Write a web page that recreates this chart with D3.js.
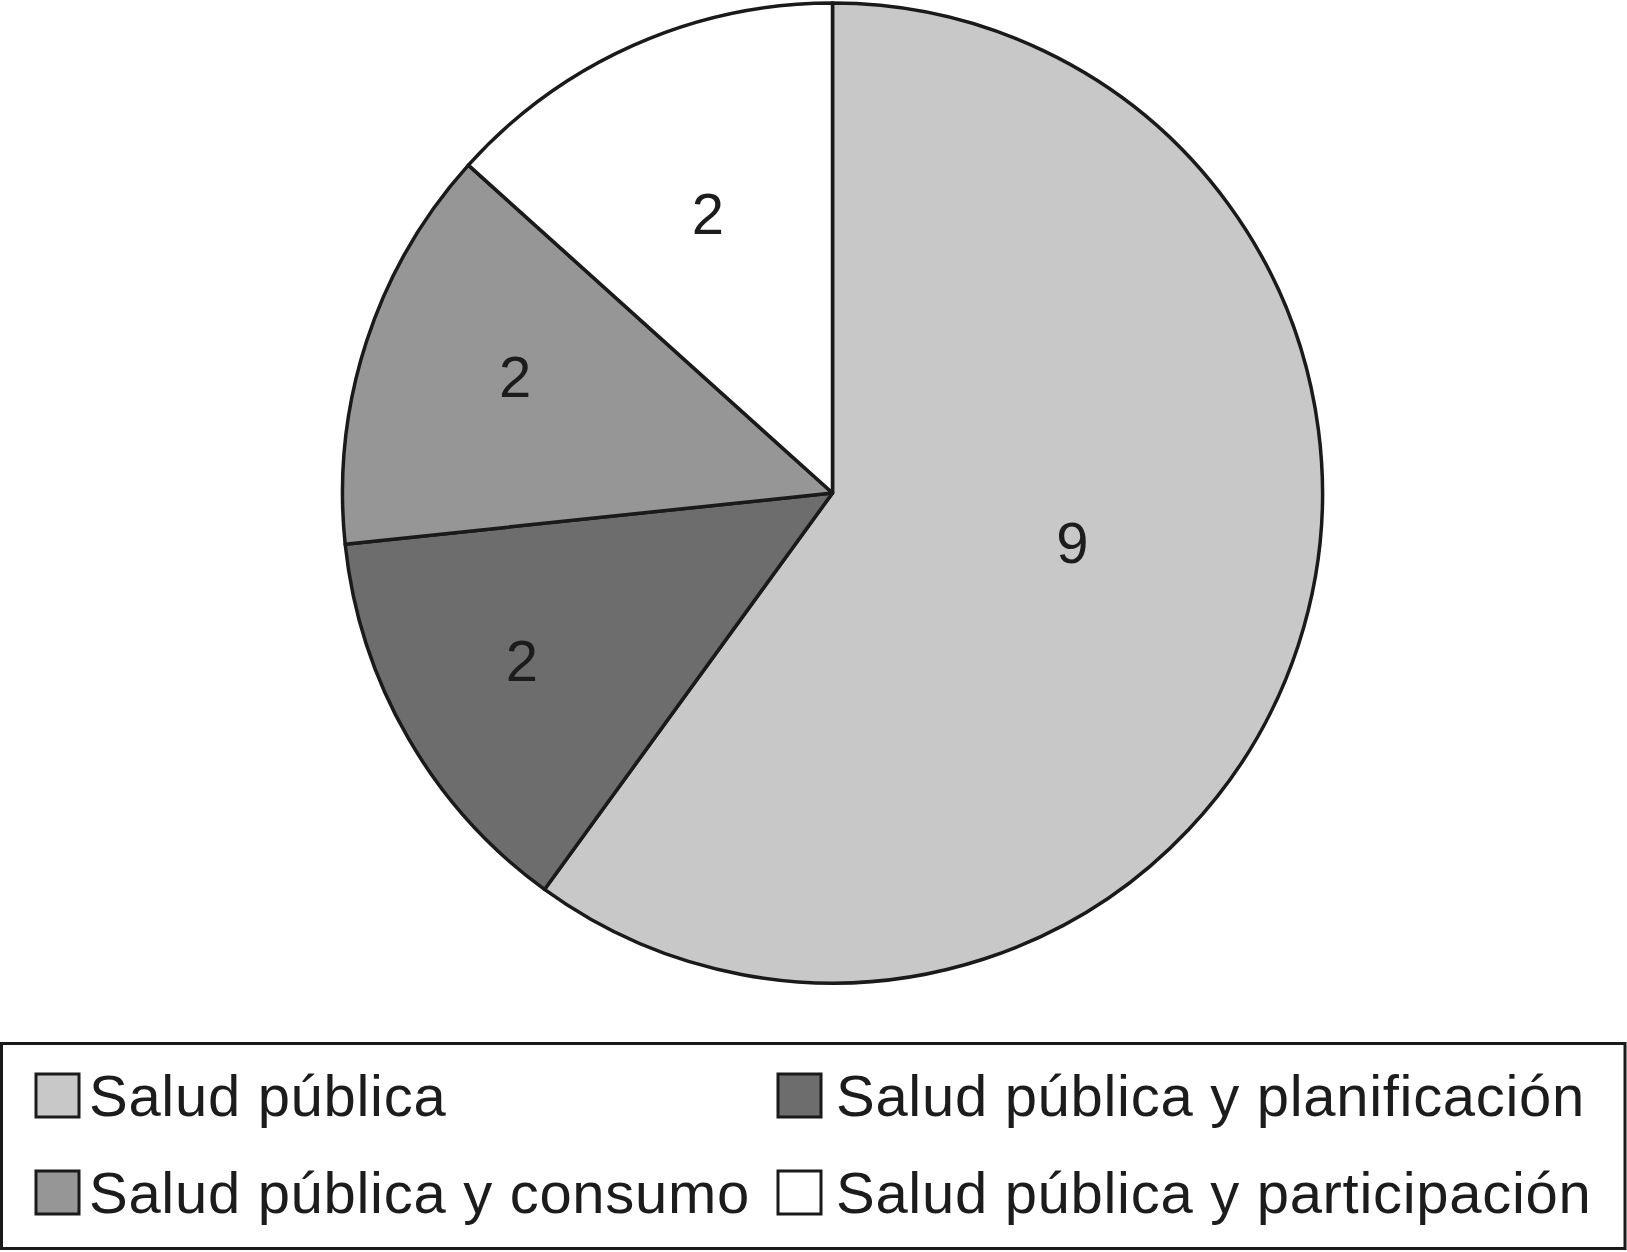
<!DOCTYPE html>
<html>
<head>
<meta charset="utf-8">
<script src="https://cdn.jsdelivr.net/npm/d3@7"></script>
<style>
html,body{margin:0;padding:0;background:#fff;}
svg{display:block;}
</style>
</head>
<body>
<svg id="chart" width="1627" height="1252"></svg>
<script>
// ---- data ----
const categories = ["Salud pública", "Salud pública y planificación", "Salud pública y consumo", "Salud pública y participación"];
const values = [9, 2, 2, 2];
const colors = ["#c8c8c8", "#6d6d6d", "#969696", "#ffffff"];
// legend order (as in the reference: row-major, 2 columns)
const legendOrder = [0, 1, 2, 3];

// ---- layout ----
const W = 1627, H = 1252;
const cx = 832.5, cy = 493, R = 490;
const labelFrac = [0.5, 0.72, 0.69, 0.625];
const labelAngleAdj = [-6.4, 1.7, 2.2, 0];
const textColor = "#1c1c1c";
const font = "'Liberation Sans', Arial, Helvetica, sans-serif";

const svg = d3.select("#chart");

const pie = d3.pie().sort(null).value(d => d)(values);
const arc = d3.arc().innerRadius(0).outerRadius(R);

const g = svg.append("g").attr("transform", `translate(${cx},${cy})`);
g.selectAll("path.slice").data(pie).join("path")
  .attr("class", "slice")
  .attr("d", arc)
  .attr("fill", (d, i) => colors[i])
  .attr("stroke", "#1a1a1a")
  .attr("stroke-width", 3.5)
  .attr("stroke-linejoin", "round");

g.selectAll("text.lbl").data(pie).join("text")
  .attr("class", "lbl")
  .attr("x", (d, i) => {
    const a = (d.startAngle + d.endAngle) / 2 + labelAngleAdj[i] * Math.PI / 180;
    return Math.sin(a) * R * labelFrac[i];
  })
  .attr("y", (d, i) => {
    const a = (d.startAngle + d.endAngle) / 2 + labelAngleAdj[i] * Math.PI / 180;
    return -Math.cos(a) * R * labelFrac[i];
  })
  .attr("text-anchor", "middle")
  .attr("dominant-baseline", "central")
  .attr("font-family", font)
  .attr("font-size", 58)
  .attr("fill", textColor)
  .text(d => d.data);

// ---- legend ----
const lg = svg.append("g");
lg.append("rect")
  .attr("x", 1.5).attr("y", 1043.5)
  .attr("width", W - 3.5).attr("height", 205)
  .attr("fill", "#fff")
  .attr("stroke", "#1a1a1a")
  .attr("stroke-width", 3);

const colX = [36, 778];
const rowY = [1074, 1171];
const sw = 43;
const items = lg.selectAll("g.item").data(legendOrder).join("g")
  .attr("class", "item")
  .attr("transform", (k, j) => `translate(${colX[j % 2]},${rowY[Math.floor(j / 2)]})`);
items.append("rect")
  .attr("x", 0).attr("y", 0)
  .attr("width", sw).attr("height", sw)
  .attr("fill", k => colors[k])
  .attr("stroke", "#1a1a1a")
  .attr("stroke-width", 3);
items.append("text")
  .attr("x", (k, j) => sw + (j % 2 ? 15 : 10))
  .attr("y", sw - 1)
  .attr("font-family", font)
  .attr("font-size", 58)
  .attr("letter-spacing", 0.7)
  .attr("fill", textColor)
  .text(k => categories[k]);
</script>
</body>
</html>
